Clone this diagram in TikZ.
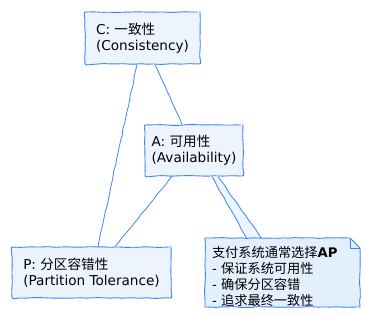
\documentclass[tikz,border=0pt]{standalone}
\usepackage{fontspec}
\setmainfont{DejaVu Sans}
\newfontfamily\cjk{Noto Sans CJK SC}
\usetikzlibrary{decorations.pathmorphing}
\definecolor{edgeblue}{HTML}{3D85F0}
\definecolor{boxfill}{HTML}{EEF4FE}
\definecolor{notefill}{HTML}{E4EFFD}
\begin{document}
\begin{tikzpicture}[x=1pt,y=-1pt,
  sketch/.style={decorate, decoration={random steps, segment length=6pt, amplitude=0.45pt}},
  capbox/.style={draw=edgeblue, fill=boxfill, line width=0.9pt, rounded corners=2pt, sketch,
    align=left, inner sep=0pt, font=\fontsize{13.6}{16}\selectfont},
  link/.style={draw=edgeblue, line width=0.8pt, sketch},
  notetext/.style={align=left, inner xsep=7pt, inner ysep=0pt, text width=141pt,
    minimum height=70pt, font=\fontsize{13.2}{16}\selectfont}]
\pgfmathsetseed{7}
\useasboundingbox (0,0) rectangle (366,315);
\fill[white] (0,0) rectangle (366,315);

\node[capbox, minimum width=115pt, minimum height=52pt] (C) at (142.5,38) {C: {\cjk 一致性}\\(Consistency)};
\node[capbox, minimum width=98pt, minimum height=51pt] (A) at (194,150.5) {A: {\cjk 可用性}\\(Availability)};
\node[capbox, minimum width=159pt, minimum height=51pt] (P) at (91.5,272.5) {P: {\cjk 分区容错性}\\(Partition Tolerance)};

% connectors
\draw[link] ([xshift=-5.5pt]C.south) -- ([xshift=6.5pt]P.north);
\draw[link] ([xshift=12.5pt]C.south) -- ([xshift=-12pt]A.north);
\draw[link] ([xshift=-22pt]A.south) -- ([xshift=23.5pt]P.north);

% note frame (text placed afterwards)
\coordinate (N) at (282.5,272.5);
\coordinate (Nnw) at (205,238);
\coordinate (Nne) at (360,238);
\coordinate (Nse) at (360,307);
\coordinate (Nsw) at (205,307);
\fill[notefill!70!white] ([xshift=18pt]A.south) -- ([xshift=24pt]A.south) -- ([xshift=-20.5pt,yshift=-2pt]N |- Nnw) -- ([xshift=-35.5pt,yshift=-2pt]N |- Nnw) -- cycle;
\draw[link] ([xshift=18pt]A.south) -- ([xshift=-35.5pt,yshift=-1pt]N |- Nnw);
\draw[link] ([xshift=24pt]A.south) -- ([xshift=-20.5pt,yshift=-1pt]N |- Nnw);
\draw[edgeblue, fill=notefill, line width=0.9pt, sketch]
  (Nnw) -- ([xshift=-10pt]Nne) -- ([yshift=-10pt]Nne) -- (Nse) -- (Nsw) -- cycle;
\draw[edgeblue, line width=0.8pt] ([xshift=-10pt]Nne) -- ([xshift=-10pt,yshift=-10pt]Nne) -- ([yshift=-10pt]Nne);
\node[notetext] (T) at ([yshift=-4pt]N) {{\cjk 支付系统通常选择}\textbf{AP}\\- {\cjk 保证系统可用性}\\- {\cjk 确保分区容错}\\- {\cjk 追求最终一致性}};
\end{tikzpicture}
\end{document}
